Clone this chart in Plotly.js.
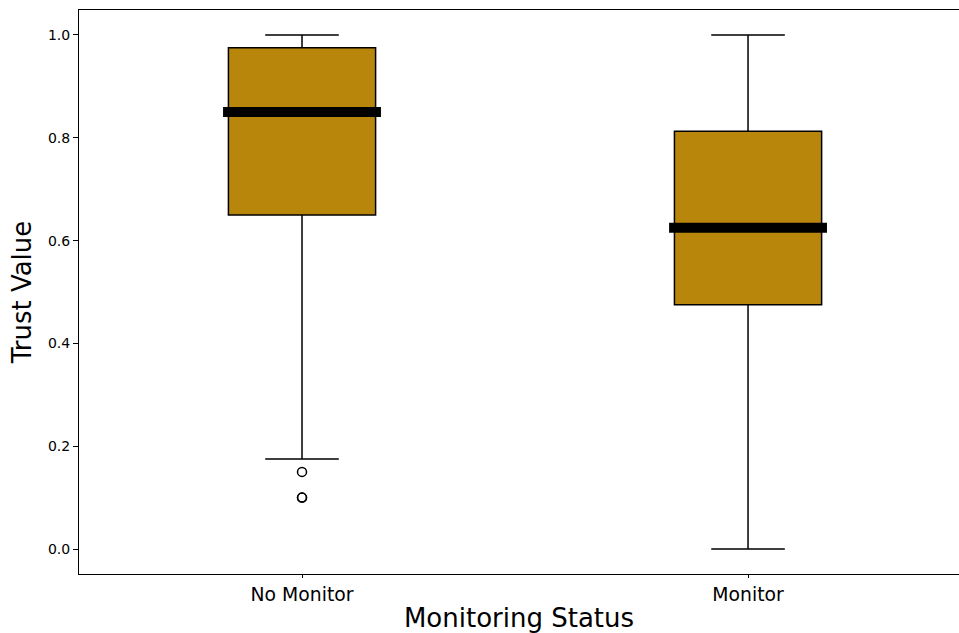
<!DOCTYPE html>
<html>
<head>
<meta charset="utf-8">
<script src="https://cdn.plot.ly/plotly-3.0.1.min.js"></script>
<style>html,body{margin:0;padding:0;background:#fff;}#chart{width:959px;height:633px;}</style>
</head>
<body>
<div id="chart"></div>
<script>
const categories = ["No Monitor", "Monitor"];
const positions = [0, 1];
const q1 = [0.65, 0.475];
const medians = [0.85, 0.625];
const q3 = [0.975, 0.8125];
const lowerWhisker = [0.175, 0.0];
const upperWhisker = [1.0, 1.0];
const outlierCategory = [0, 0, 0];
const outlierValues = [0.15, 0.1, 0.1];
const yTicks = [0.0, 0.2, 0.4, 0.6, 0.8, 1.0];

const boxColor = '#b8860b';
const boxWidth = 0.33;
const medianHalf = 0.177;

const traces = [];
positions.forEach((p, i) => {
  traces.push({
    type: 'box',
    x: [p],
    q1: [q1[i]], median: [medians[i]], q3: [q3[i]],
    lowerfence: [lowerWhisker[i]], upperfence: [upperWhisker[i]],
    width: boxWidth,
    whiskerwidth: 0.5,
    fillcolor: boxColor,
    line: {color: '#000', width: 1.5},
    boxpoints: false,
    showlegend: false,
    hoverinfo: 'skip'
  });
  traces.push({
    type: 'scatter', mode: 'lines',
    x: [p - medianHalf, p + medianHalf],
    y: [medians[i], medians[i]],
    line: {color: '#000', width: 10},
    showlegend: false, hoverinfo: 'skip'
  });
});
traces.push({
  type: 'scatter', mode: 'markers',
  x: outlierCategory.map(c => positions[c]),
  y: outlierValues,
  marker: {symbol: 'circle-open', size: 9, color: '#000', line: {width: 1.5, color: '#000'}},
  showlegend: false, hoverinfo: 'skip'
});

const layout = {
  width: 959, height: 633,
  margin: {l: 79, r: 0, t: 10, b: 59},
  paper_bgcolor: '#fff', plot_bgcolor: '#fff',
  font: {family: 'DejaVu Sans, sans-serif', color: '#000'},
  showlegend: false,
  xaxis: {
    range: [-0.5, 1.473],
    tickmode: 'array', tickvals: positions, ticktext: categories,
    tickfont: {size: 18.8, color: '#000'},
    ticks: 'outside', ticklen: 3, tickcolor: '#000', tickwidth: 1,
    showline: true, linecolor: '#000', linewidth: 1, mirror: true,
    showgrid: false, zeroline: false,
    title: {text: 'Monitoring Status', font: {size: 26, color: '#000'}, standoff: 9}
  },
  yaxis: {
    range: [-0.0486, 1.0486],
    tickmode: 'array', tickvals: yTicks, ticktext: yTicks.map(v => v.toFixed(1)),
    tickfont: {size: 14, color: '#000'},
    ticks: 'outside', ticklen: 5, tickcolor: '#000', tickwidth: 1,
    showline: true, linecolor: '#000', linewidth: 1, mirror: false,
    showgrid: false, zeroline: false,
    title: {text: 'Trust Value', font: {size: 26, color: '#000'}, standoff: 8}
  }
};

Plotly.newPlot('chart', traces, layout, {displayModeBar: false, staticPlot: true});
</script>
</body>
</html>
